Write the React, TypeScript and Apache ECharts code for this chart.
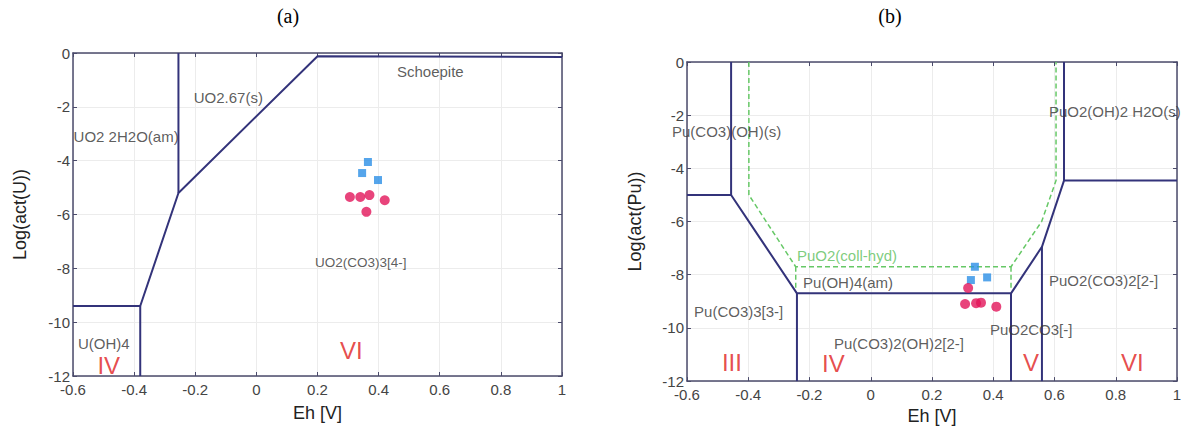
import React, { useEffect, useRef } from "react";
import * as echarts from "echarts";

// ---------- data ----------
const ehTicks = [-0.6, -0.4, -0.2, 0, 0.2, 0.4, 0.6, 0.8, 1];
const logTicks = [-12, -10, -8, -6, -4, -2, 0];

// (a) Uranium boundaries
const uBoundaries: number[][][] = [
  [[-0.255, 0], [-0.255, -5.2]],
  [[-0.38, -9.4], [-0.255, -5.2], [0.2, -0.12], [1, -0.15]],
  [[-0.6, -9.4], [-0.38, -9.4], [-0.38, -12]],
];
const uSquares = [[0.365, -4.05], [0.346, -4.46], [0.398, -4.72]];
const uCircles = [[0.306, -5.35], [0.34, -5.35], [0.37, -5.28], [0.42, -5.47], [0.36, -5.9]];
const uLabels: [number, number, string][] = [
  [-0.205, -1.67, "UO2.67(s)"],
  [-0.598, -3.12, "UO2 2H2O(am)"],
  [0.46, -0.67, "Schoepite"],
  [-0.584, -10.78, "U(OH)4"],
];
const uLabelsSmall: [number, number, string][] = [[0.192, -7.77, "UO2(CO3)3[4-]"]];
const uOxidation: [number, number, string][] = [
  [-0.52, -11.6, "IV"],
  [0.274, -11.05, "VI"],
];

// (b) Plutonium boundaries
const puBoundaries: number[][][] = [
  [[-0.456, 0], [-0.456, -5], [-0.6, -5]],
  [[-0.456, -5], [-0.241, -8.7], [0.458, -8.7], [0.559, -6.95], [0.631, -4.46], [1, -4.46]],
  [[0.631, -4.46], [0.631, 0]],
  [[-0.241, -8.7], [-0.241, -12]],
  [[0.458, -8.7], [0.458, -12]],
  [[0.559, -6.95], [0.559, -12]],
];
const puColloid: number[][][] = [
  [[-0.398, 0], [-0.398, -5], [-0.245, -7.7], [0.458, -7.7], [0.558, -6.0], [0.605, -4.46], [0.605, 0]],
  [[-0.245, -7.7], [-0.245, -8.6]],
  [[0.458, -7.7], [0.458, -8.6]],
];
const puSquares = [[0.34, -7.7], [0.327, -8.2], [0.38, -8.1]];
const puCircles = [[0.318, -8.5], [0.308, -9.1], [0.344, -9.07], [0.36, -9.05], [0.41, -9.2]];
const puLabels: [number, number, string][] = [
  [-0.649, -2.6, "Pu(CO3)(OH)(s)"],
  [0.582, -1.86, "PuO2(OH)2 H2O(s)"],
  [-0.221, -8.29, "Pu(OH)4(am)"],
  [-0.577, -9.4, "Pu(CO3)3[3-]"],
  [-0.12, -10.58, "Pu(CO3)2(OH)2[2-]"],
  [0.389, -10.07, "PuO2CO3[-]"],
  [0.582, -8.2, "PuO2(CO3)2[2-]"],
];
const puColloidLabel: [number, number, string][] = [[-0.241, -7.29, "PuO2(coll-hyd)"]];
const puOxidation: [number, number, string][] = [
  [-0.486, -11.3, "III"],
  [-0.159, -11.33, "IV"],
  [0.497, -11.3, "V"],
  [0.817, -11.3, "VI"],
];

// ---------- styles ----------
const NAVY = "#33337a";
const GREEN = "#66c866";
const BLUE = "#2b8ee6";
const RED = "#e2155a";
const BOX = "#4b4b6b";
const SANS = "'Liberation Sans', Arial, sans-serif";
const SERIF = "'Liberation Serif', 'Times New Roman', serif";

function xAxes(gridIndex: number, nameGap: number) {
  const common = {
    type: "value",
    gridIndex,
    min: -0.6,
    max: 1,
    interval: 0.2,
    axisLine: { show: true, onZero: false, lineStyle: { color: BOX, width: 1.5 } },
    axisTick: { show: true, inside: true, length: 4, lineStyle: { color: BOX } },
    splitLine: { show: false },
  };
  return [
    {
      ...common,
      position: "bottom",
      name: "Eh [V]",
      nameLocation: "middle",
      nameGap,
      nameTextStyle: { color: "#222", fontSize: 18, fontFamily: SANS },
      splitLine: { show: true, lineStyle: { color: "#ececec", width: 1 } },
      axisLabel: {
        color: "#444",
        fontSize: 15,
        lineHeight: 15,
        fontFamily: SANS,
        margin: 6,
        formatter: (v: number) => {
          const r = Math.round(v * 10) / 10;
          return ehTicks.includes(r) ? String(r) : "";
        },
      },
    },
    { ...common, position: "top", axisLabel: { show: false } },
  ];
}

function yAxes(gridIndex: number, name: string, nameGap: number) {
  const common = {
    type: "value",
    gridIndex,
    min: -12,
    max: 0,
    interval: 2,
    axisLine: { show: true, onZero: false, lineStyle: { color: BOX, width: 1.5 } },
    axisTick: { show: true, inside: true, length: 4, lineStyle: { color: BOX } },
    splitLine: { show: false },
  };
  return [
    {
      ...common,
      position: "left",
      name,
      nameLocation: "middle",
      nameGap,
      nameTextStyle: { color: "#222", fontSize: 18, fontFamily: SANS },
      splitLine: { show: true, lineStyle: { color: "#ececec", width: 1 } },
      axisLabel: {
        color: "#444",
        fontSize: 15,
        lineHeight: 13,
        fontFamily: SANS,
        margin: 3,
        formatter: (v: number) => (logTicks.includes(v) ? String(v) : ""),
      },
    },
    { ...common, position: "right", axisLabel: { show: false } },
  ];
}

function lineSeries(polys: number[][][], xi: number, yi: number, color: string, width: number, dashed = false) {
  return polys.map((p) => ({
    type: "line",
    xAxisIndex: xi,
    yAxisIndex: yi,
    data: p,
    showSymbol: false,
    symbol: "none",
    silent: true,
    lineStyle: { color, width, type: dashed ? [5, 3] : "solid" },
    z: 3,
  }));
}

function labelSeries(items: [number, number, string][], xi: number, yi: number, color: string, fontSize: number) {
  return {
    type: "scatter",
    xAxisIndex: xi,
    yAxisIndex: yi,
    symbolSize: 0,
    clip: false,
    silent: true,
    data: items.map((d) => ({ value: [d[0], d[1]], name: d[2] })),
    label: {
      show: true,
      position: "right",
      distance: 0,
      formatter: (p: any) => p.name,
      color,
      fontSize,
      lineHeight: Math.round(fontSize * 0.9),
      fontFamily: SANS,
    },
    z: 5,
  };
}

function scatterSeries(data: number[][], xi: number, yi: number, symbol: string, size: number, color: string) {
  return {
    type: "scatter",
    xAxisIndex: xi,
    yAxisIndex: yi,
    symbol,
    symbolSize: size,
    data,
    itemStyle: { color },
    z: 6,
  };
}

export default function App() {
  const ref = useRef<HTMLDivElement>(null);
  useEffect(() => {
    if (!ref.current) return;
    const chart = echarts.init(ref.current, undefined, { renderer: "svg" });
    const option: any = {
      animation: false,
      backgroundColor: "#ffffff",
      title: [
        {
          text: "(a)",
          left: 283,
          top: 1,
          textAlign: "center",
          textStyle: { fontFamily: SERIF, fontSize: 20, fontWeight: "normal", color: "#000" },
        },
        {
          text: "(b)",
          left: 885,
          top: 1,
          textAlign: "center",
          textStyle: { fontFamily: SERIF, fontSize: 20, fontWeight: "normal", color: "#000" },
        },
      ],
      grid: [
        { left: 73, top: 53, width: 489, height: 323 },
        { left: 687, top: 62, width: 490, height: 323 },
      ],
      xAxis: [...xAxes(0, 28), ...xAxes(1, 21)],
      yAxis: [...yAxes(0, "Log(act(U))", 44), ...yAxes(1, "Log(act(Pu))", 43)],
      series: [
        ...lineSeries(uBoundaries, 0, 0, NAVY, 2),
        ...lineSeries(puColloid, 2, 2, GREEN, 1.5, true),
        ...lineSeries(puBoundaries, 2, 2, NAVY, 2),
        labelSeries(uLabels, 0, 0, "#333", 15),
        labelSeries(uLabelsSmall, 0, 0, "#333", 13.5),
        labelSeries(uOxidation, 0, 0, "#e02020", 24),
        labelSeries(puLabels, 2, 2, "#333", 15),
        labelSeries(puColloidLabel, 2, 2, "#5cc05c", 15),
        labelSeries(puOxidation, 2, 2, "#e02020", 24),
        scatterSeries(uSquares, 0, 0, "rect", 8, BLUE),
        scatterSeries(uCircles, 0, 0, "circle", 10, RED),
        scatterSeries(puSquares, 2, 2, "rect", 8, BLUE),
        scatterSeries(puCircles, 2, 2, "circle", 10, RED),
      ],
    };
    chart.setOption(option);
    return () => chart.dispose();
  }, []);
  return <div ref={ref} style={{ position: "fixed", left: 0, top: 0, width: 1193, height: 430 }} />;
}
